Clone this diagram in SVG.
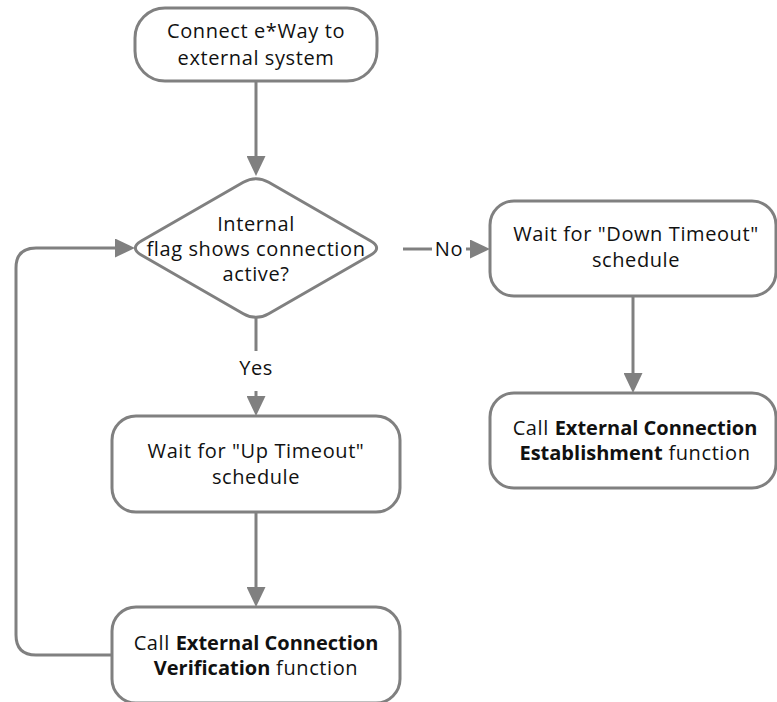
<svg xmlns="http://www.w3.org/2000/svg" width="777" height="702" viewBox="0 0 777 702">
  <style>
    .shape { fill: #ffffff; stroke: #808080; stroke-width: 3; }
    .edge { fill: none; stroke: #808080; stroke-width: 3; }
    text { font-family: "Open Sans", "Noto Sans", sans-serif; font-size: 20px; letter-spacing: 0.6px; fill: #111111; text-anchor: middle; }
    .b { font-weight: bold; letter-spacing: 0; }
  </style>
  <defs>
    <marker id="ah" viewBox="0 0 20 19" refX="10" refY="9.5" markerWidth="20" markerHeight="19" markerUnits="userSpaceOnUse" orient="auto">
      <path d="M0,0 L20,9.5 L0,19 Z" fill="#808080"/>
    </marker>
  </defs>

  <g id="connectors">
    <path class="edge" d="M256,81 V166" marker-end="url(#ah)"/>
    <path class="edge" d="M256,318 V351"/>
    <path class="edge" d="M256,391 V406" marker-end="url(#ah)"/>
    <path class="edge" d="M256,512 V597" marker-end="url(#ah)"/>
    <path class="edge" d="M403,249 H432"/>
    <path class="edge" d="M466,249 H480" marker-end="url(#ah)"/>
    <path class="edge" d="M633,296 V383" marker-end="url(#ah)"/>
    <path class="edge" d="M112,655 H36 Q16,655 16,635 V268 Q16,248 36,248 H125" marker-end="url(#ah)"/>
    <text x="256" y="375">Yes</text>
    <text x="449" y="256">No</text>
  </g>

  <g id="connect">
    <rect class="shape" x="135" y="8" width="242" height="73" rx="30" ry="30"/>
    <text x="256" y="37.5">Connect e*Way to</text>
    <text x="256" y="64.5">external system</text>
  </g>

  <g id="flag-check">
    <path class="shape" d="M268.7,182.3 L370.3,240.7 Q383,248 370.3,255.3 L268.7,313.7 Q256,321 243.3,313.7 L141.7,255.3 Q129,248 141.7,240.7 L243.3,182.3 Q256,175 268.7,182.3 Z"/>
    <text x="256" y="231">Internal</text>
    <text x="256" y="256">flag shows connection</text>
    <text x="256" y="281">active?</text>
  </g>

  <g id="up-wait">
    <rect class="shape" x="112" y="416" width="288" height="96" rx="24" ry="24"/>
    <text x="256" y="458">Wait for "Up Timeout"</text>
    <text x="256" y="484">schedule</text>
  </g>

  <g id="verify">
    <rect class="shape" x="112" y="607" width="288" height="96" rx="24" ry="24"/>
    <text x="256" y="650">Call <tspan class="b">External Connection</tspan></text>
    <text x="256" y="675"><tspan class="b">Verification</tspan> function</text>
  </g>

  <g id="down-wait">
    <rect class="shape" x="490" y="201" width="286" height="95" rx="24" ry="24"/>
    <text x="636" y="241">Wait for "Down Timeout"</text>
    <text x="636" y="267">schedule</text>
  </g>

  <g id="establish">
    <rect class="shape" x="490" y="393" width="286" height="95" rx="24" ry="24"/>
    <text x="635" y="435">Call <tspan class="b">External Connection</tspan></text>
    <text x="635" y="460"><tspan class="b">Establishment</tspan> function</text>
  </g>
</svg>
